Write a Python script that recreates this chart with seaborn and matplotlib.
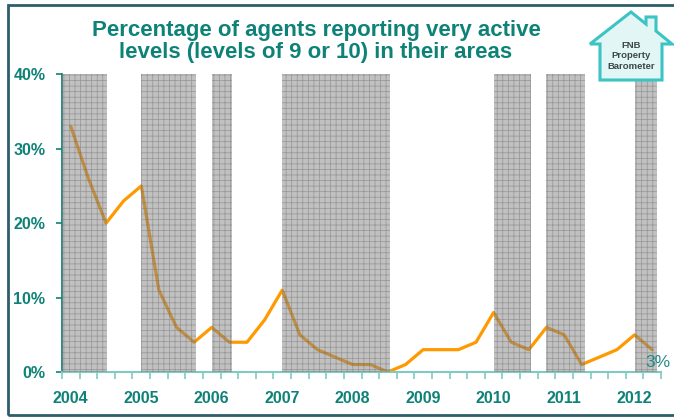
import matplotlib
matplotlib.use("Agg")
import matplotlib.pyplot as plt
import matplotlib.patches as mpatches
import numpy as np
import pandas as pd
import seaborn as sns

# ---------------- data ----------------
quarters = [f"{y}Q{q}" for y in range(2004, 2013) for q in range(1, 5)][:34]
values = [33, 26, 20, 23, 25, 11, 6, 4, 6, 4, 4, 7, 11, 5, 3, 2, 1, 1, 0, 1,
          3, 3, 3, 4, 8, 4, 3, 6, 5, 1, 2, 3, 5, 3]
year_labels = ["2004", "2005", "2006", "2007", "2008", "2009", "2010", "2011", "2012"]
# shaded periods (in quarter index units)
shaded_start = [-0.5, 4, 8, 12, 24, 27, 32]
shaded_end = [2.05, 7.1, 9.15, 18.1, 26.1, 29.2, 33.3]
y_ticks = [0, 10, 20, 30, 40]
title = "Percentage of agents reporting very active\nlevels (levels of 9 or 10) in their areas"
end_label = "3%"

TEAL = "#0f8278"
LIGHT_TEAL = "#7fcac3"

sns.set_theme(style="white")
plt.rcParams["font.family"] = ["Liberation Sans", "DejaVu Sans"]
plt.rcParams["hatch.linewidth"] = 0.55

W, H = 674, 417
fig = plt.figure(figsize=(W / 100, H / 100), dpi=100)
ax = fig.add_axes([62 / W, 1 - 372 / H, (661 - 62) / W, (372 - 74.3) / H])

df = pd.DataFrame({"idx": np.arange(len(values)), "quarter": quarters, "value": values})
sns.lineplot(data=df, x="idx", y="value", ax=ax, color="#ff9900", linewidth=2.3, zorder=2)

for s, e in zip(shaded_start, shaded_end):
    ax.axvspan(s, e, facecolor="#858585", edgecolor="#707070", hatch="+++",
               linewidth=0, alpha=0.5, zorder=3)

ax.set_xlim(-0.5, len(values) - 0.5)
ax.set_ylim(0, 40)
ax.set_xlabel("")
ax.set_ylabel("")

# y axis
ax.set_yticks(y_ticks)
ax.set_yticklabels([f"{v}%" for v in y_ticks])
ax.tick_params(axis="y", which="major", left=True, length=4, width=1.2, color=TEAL,
               labelsize=11.5, labelcolor=TEAL, pad=8)
for lab in ax.get_yticklabels():
    lab.set_fontweight("bold")

# x axis: labels at Q1 of each year, ticks at category boundaries
year_pos = [i for i, q in enumerate(quarters) if q.endswith("Q1")]
ax.set_xticks(year_pos)
ax.set_xticklabels(year_labels)
ax.tick_params(axis="x", which="major", bottom=False, length=0, labelsize=11.5,
               labelcolor=TEAL, pad=14)
for lab in ax.get_xticklabels():
    lab.set_fontweight("bold")
ax.set_xticks(np.arange(-0.5, len(values), 1.0), minor=True)
ax.tick_params(axis="x", which="minor", bottom=True, length=5, width=1.2, color=LIGHT_TEAL)

for side in ["top", "right"]:
    ax.spines[side].set_visible(False)
ax.spines["left"].set_color(TEAL)
ax.spines["left"].set_linewidth(1.3)
ax.spines["bottom"].set_color(LIGHT_TEAL)
ax.spines["bottom"].set_linewidth(1.5)
ax.grid(False)

# end value label
ax.annotate(end_label, xy=(len(values) - 1, values[-1]), xytext=(-5, -12.5),
            textcoords="offset points", ha="left", va="baseline",
            fontsize=12.5, color="#218a88", zorder=5)

# title
fig.text(316 / W, 1 - 41.5 / H, title, ha="center", va="center", fontsize=16,
         fontweight="bold", color=TEAL, linespacing=1.08)

# figure border
fig.add_artist(mpatches.Rectangle((8 / W, 1 - 415 / H), 1.0, (415 - 5) / H,
                                  transform=fig.transFigure, fill=False,
                                  edgecolor="#2d5e6a", linewidth=2))

# logo (house)
house = [(590, 44), (600, 44), (600, 80), (662, 80), (662, 44), (672, 44), (656, 31),
         (656, 17), (646, 17), (646, 24), (631, 12)]
house_fig = [(x / W, 1 - y / H) for x, y in house]
fig.add_artist(mpatches.Polygon(house_fig, closed=True, transform=fig.transFigure,
                                facecolor="#e2f6f6", edgecolor="#3cc4c4",
                                linewidth=2.2, zorder=10))
fig.text(631 / W, 1 - 56 / H, "FNB\nProperty\nBarometer", ha="center", va="center",
         fontsize=6.8, fontweight="bold", color="#3c4848", linespacing=1.15, zorder=11)

fig.savefig("out.png", dpi=100)
